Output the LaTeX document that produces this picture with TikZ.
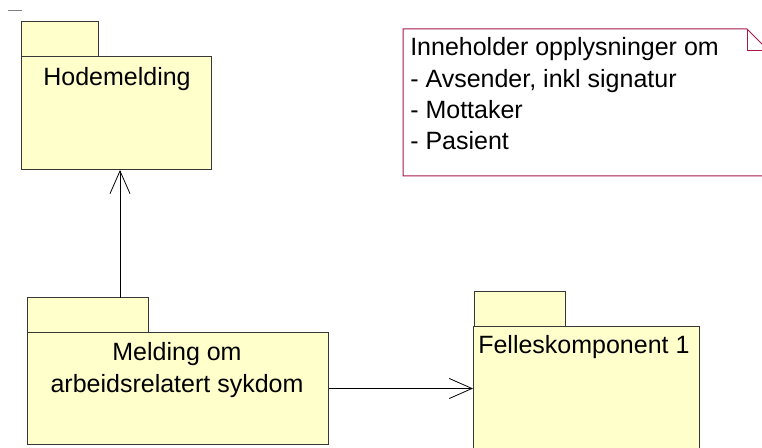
\documentclass[tikz,border=0pt]{standalone}
\usepackage{fontspec}
\setmainfont{Liberation Sans}
\usetikzlibrary{arrows.meta}
\definecolor{pkgfill}{RGB}{255,255,204}
\definecolor{pkgline}{RGB}{55,55,55}
\definecolor{notered}{RGB}{165,25,70}
\tikzset{
  pkgbody/.style={draw=pkgline, fill=pkgfill, line width=0.75pt, inner sep=0pt, anchor=north west},
  pkgtab/.style={fill=pkgfill, inner sep=0pt, anchor=north west},
  tabedge/.style={draw=pkgline, line width=0.75pt},
  lbl/.style={font=\fontsize{18.75pt}{23.6pt}\selectfont, inner sep=0pt, text=black},
  arr/.style={draw=black, line width=0.6pt, -{Straight Barb[length=17pt,width=15pt]}},
}
\begin{document}
\begin{tikzpicture}[x=0.75pt,y=-0.75pt]
\clip (0,0) rectangle (762,448);
\fill[white] (0,0) rectangle (762,448);
\draw[gray, line width=0.75pt] (8,11) -- (22,11);

% Hodemelding package
\node[pkgbody, minimum width=190*0.75pt, minimum height=113*0.75pt] (hode) at (21,56) {};
\node[pkgtab, minimum width=77*0.75pt, minimum height=34*0.75pt] (hodetab) at (21,22) {};
\draw[tabedge] (hodetab.south west) -- (hodetab.north west) -- (hodetab.north east) -- (hodetab.south east);
\node[lbl, anchor=base] (hodetxt) at (117,86) {Hodemelding};

% Melding package
\node[pkgbody, minimum width=301*0.75pt, minimum height=112*0.75pt] (meld) at (27,332) {};
\node[pkgtab, minimum width=121*0.75pt, minimum height=34*0.75pt] (meldtab) at (27,298) {};
\draw[tabedge] (meldtab.south west) -- (meldtab.north west) -- (meldtab.north east) -- (meldtab.south east);
\node[lbl, anchor=base, align=center] (meldtxt) at (177,392) {Melding om\\arbeidsrelatert sykdom};

% Felleskomponent package
\node[pkgbody, minimum width=226*0.75pt, minimum height=144*0.75pt] (felles) at (473,326) {};
\node[pkgtab, minimum width=91*0.75pt, minimum height=34*0.75pt] (fellestab) at (474,292) {};
\draw[tabedge] (fellestab.south west) -- (fellestab.north west) -- (fellestab.north east) -- (fellestab.south east);
\node[lbl, anchor=base west] (fellestxt) at (478,353) {Felleskomponent 1};

% Note
\draw[notered, line width=0.75pt, fill=white] (403,29) -- (747,29) -- (769,51) -- (769,176) -- (403,176) -- cycle;
\draw[notered, line width=0.75pt] (747,29) -- (747,51) -- (769,51);
\node[lbl, anchor=base west, align=left] (note) at (410,150) {Inneholder opplysninger om\\- Avsender, inkl signatur\\- Mottaker\\- Pasient};

% Connectors
\coordinate (upstart) at (120,298);
\draw[arr] (upstart) -- (upstart |- hode.south);
\draw[arr] (meld.east) -- (meld.east -| felles.west);
\end{tikzpicture}
\end{document}
